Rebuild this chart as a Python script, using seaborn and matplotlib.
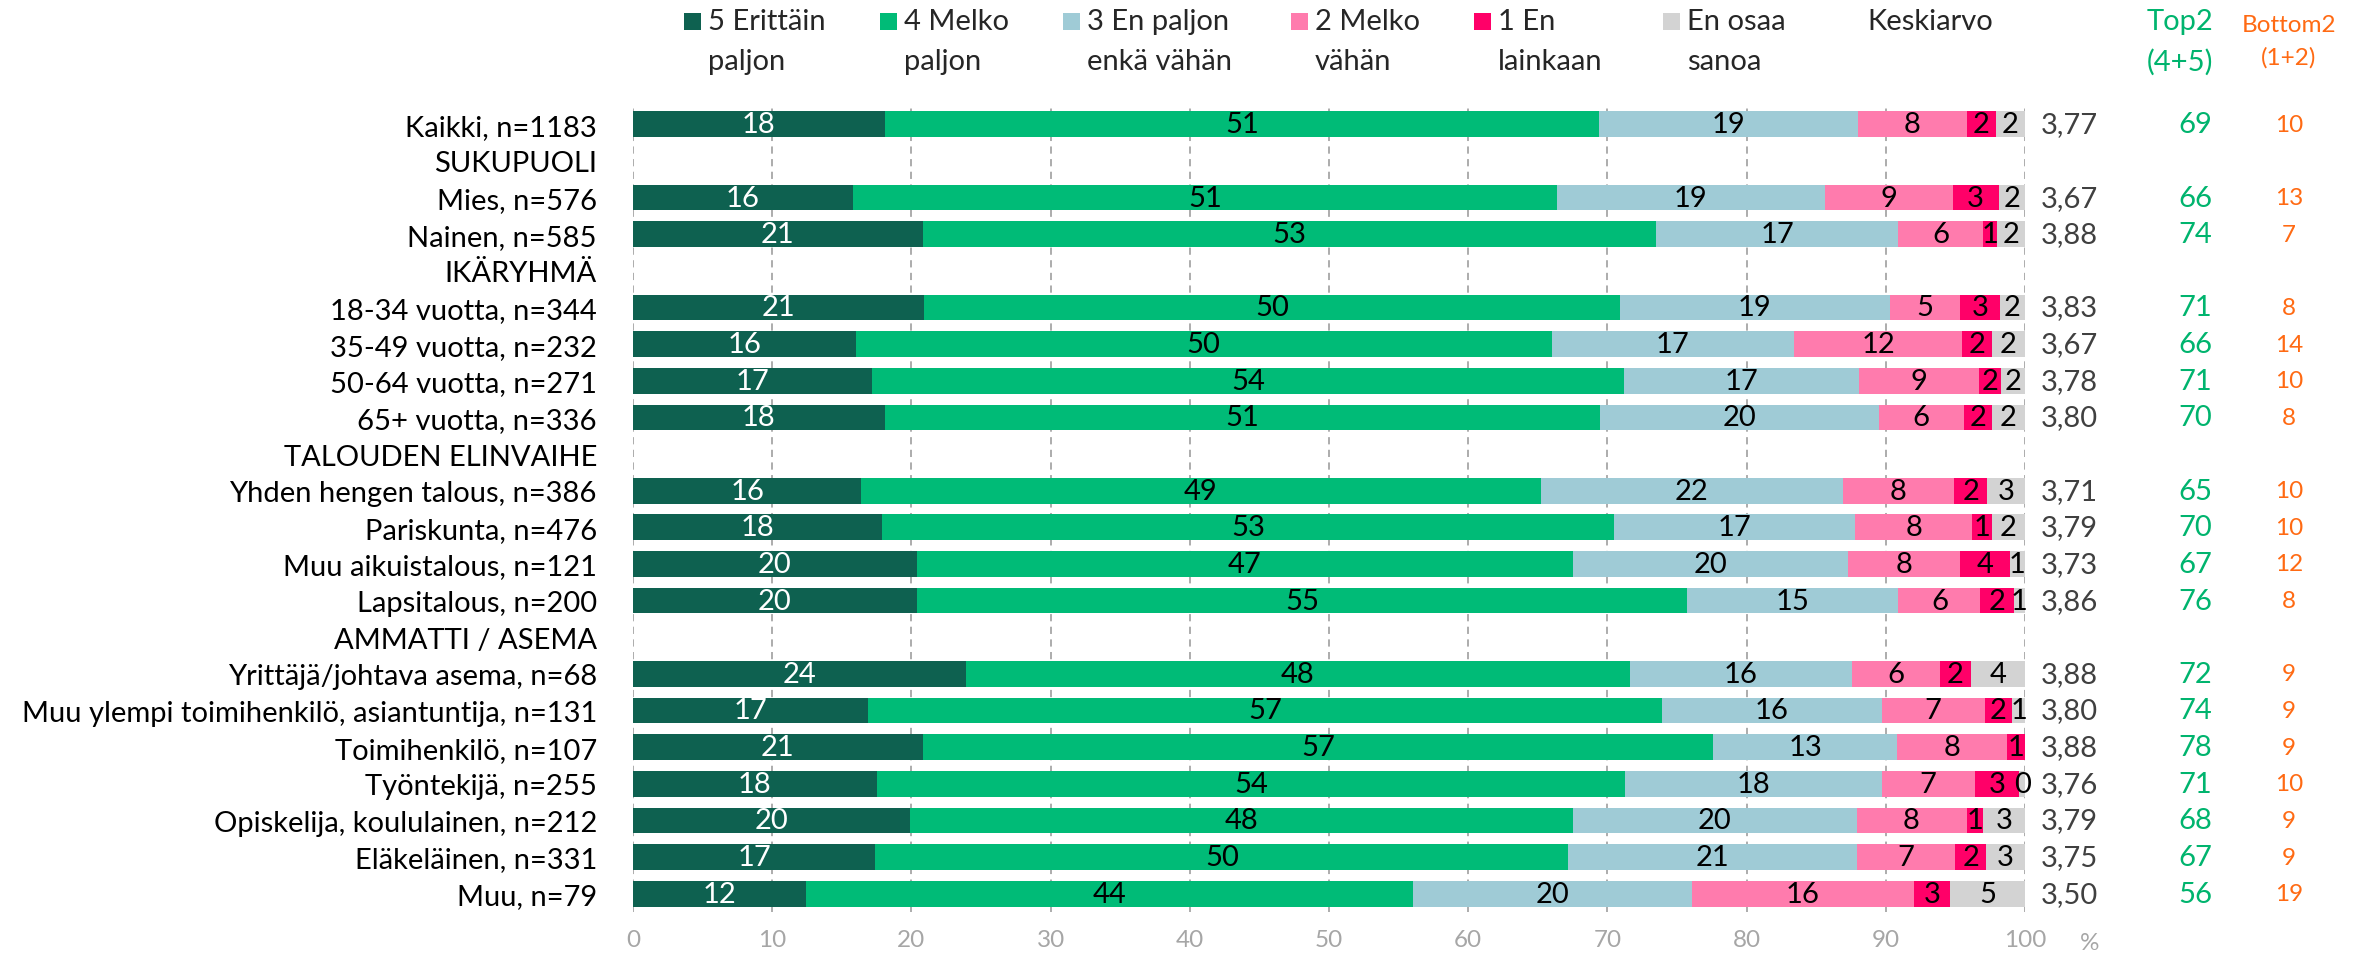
import numpy as np
import pandas as pd
import matplotlib
matplotlib.use("Agg")
import matplotlib.pyplot as plt
import matplotlib.transforms as mtrans
from matplotlib.patches import Rectangle
import seaborn as sns

nan = np.nan

rows = ["Kaikki, n=1183", "SUKUPUOLI", "Mies, n=576", "Nainen, n=585", "IKÄRYHMÄ",
        "18-34 vuotta, n=344", "35-49 vuotta, n=232", "50-64 vuotta, n=271", "65+ vuotta, n=336",
        "TALOUDEN ELINVAIHE", "Yhden hengen talous, n=386", "Pariskunta, n=476",
        "Muu aikuistalous, n=121", "Lapsitalous, n=200", "AMMATTI / ASEMA",
        "Yrittäjä/johtava asema, n=68", "Muu ylempi toimihenkilö, asiantuntija, n=131",
        "Toimihenkilö, n=107", "Työntekijä, n=255", "Opiskelija, koululainen, n=212",
        "Eläkeläinen, n=331", "Muu, n=79"]

series_names = ["5 Erittäin\npaljon", "4 Melko\npaljon", "3 En paljon\nenkä vähän",
                "2 Melko\nvähän", "1 En\nlainkaan", "En osaa\nsanoa"]

s5 = [18.1, nan, 15.8, 20.8, nan, 20.9, 16.0, 17.2, 18.1, nan, 16.4, 17.9, 20.4, 20.4, nan,
      23.9, 16.9, 20.8, 17.5, 19.9, 17.4, 12.4]
s4 = [51.3, nan, 50.6, 52.7, nan, 50.0, 50.0, 54.0, 51.4, nan, 48.8, 52.6, 47.1, 55.3, nan,
      47.7, 57.0, 56.8, 53.8, 47.6, 49.8, 43.6]
s3 = [18.6, nan, 19.2, 17.4, nan, 19.4, 17.4, 16.9, 20.0, nan, 21.7, 17.3, 19.8, 15.2, nan,
      16.0, 15.8, 13.2, 18.4, 20.4, 20.7, 20.1]
s2 = [7.8, nan, 9.2, 6.1, nan, 5.0, 12.1, 8.6, 6.1, nan, 8.0, 8.4, 8.0, 5.9, nan,
      6.3, 7.4, 7.9, 6.7, 7.9, 7.1, 15.9]
s1 = [2.1, nan, 3.3, 1.0, nan, 2.9, 2.1, 1.6, 2.0, nan, 2.4, 1.4, 3.6, 2.4, nan,
      2.2, 2.0, 1.3, 3.2, 1.2, 2.2, 2.6]
s0 = [2.1, nan, 1.9, 2.0, nan, 1.8, 2.4, 1.7, 2.4, nan, 2.7, 2.4, 1.1, 0.8, nan,
      3.9, 0.9, 0.0, 0.4, 3.0, 2.8, 5.4]

keskiarvo = [3.77, nan, 3.67, 3.88, nan, 3.83, 3.67, 3.78, 3.80, nan, 3.71, 3.79, 3.73, 3.86, nan,
             3.88, 3.80, 3.88, 3.76, 3.79, 3.75, 3.50]
top2 = [69, nan, 66, 74, nan, 71, 66, 71, 70, nan, 65, 70, 67, 76, nan,
        72, 74, 78, 71, 68, 67, 56]
bottom2 = [10, nan, 13, 7, nan, 8, 14, 10, 8, nan, 10, 10, 12, 8, nan,
           9, 9, 9, 10, 9, 9, 19]

xticks = list(range(0, 101, 10))

colors = ["#0E6150", "#00BB77", "#9FCBD6", "#FF7BAD", "#FF0068", "#D3D3D3"]
text_colors = ["white", "black", "black", "black", "black", "black"]
green_txt = "#00B46E"
orange_txt = "#FF6A13"

sns.set_theme(style="white")
plt.rcParams['font.family'] = ['Lato', 'DejaVu Sans']

W, H = 2362, 962
fig = plt.figure(figsize=(W / 100, H / 100), dpi=100)
ax_left, ax_right, ax_top, ax_bot = 633, 2025, 107, 913
ax = fig.add_axes([ax_left / W, 1 - ax_bot / H, (ax_right - ax_left) / W, (ax_bot - ax_top) / H])

vals = np.array([s5, s4, s3, s2, s1, s0], dtype=float)
cum = np.cumsum(vals, axis=0)

# stacked bars: draw cumulative totals from the right-most segment down
for k in range(5, -1, -1):
    df = pd.DataFrame({"row": rows, "val": cum[k]})
    sns.barplot(data=df, x="val", y="row", order=rows, orient="h", color=colors[k],
                saturation=1, width=0.7, errorbar=None, linewidth=0, ax=ax)

FS = 21
FS_SMALL = 17.5
FS_TICK = 17.5
for k in range(6):
    for i in range(len(rows)):
        v = vals[k, i]
        if np.isnan(v) or v <= 0:
            continue
        center = cum[k, i] - v / 2
        ax.text(center, i, f"{v:.0f}", ha="center", va="center", fontsize=FS,
                color=text_colors[k])

ax.set_xlim(0, 100)
ax.set_ylim(len(rows) - 0.5, -0.5)
ax.set_xticks(xticks)
ax.set_xticklabels([str(t) for t in xticks])
ax.set_xlabel("")
ax.set_ylabel("")
for sp in ax.spines.values():
    sp.set_visible(False)
ax.set_axisbelow(True)
ax.xaxis.grid(True, linestyle=(0, (4, 3)), color="#A6A6A6", linewidth=1.3)
ax.yaxis.grid(False)
ax.tick_params(axis="x", length=0, pad=12, labelsize=FS_TICK, labelcolor="#A6A6A6")
ax.tick_params(axis="y", length=0, pad=26, labelsize=FS, labelcolor="black")

fig.text(2090 / W, 1 - 944 / H, "%", ha="center", va="center", fontsize=FS_TICK, color="#A6A6A6")

# right-hand columns
tr = mtrans.blended_transform_factory(fig.transFigure, ax.transData)
for i in range(len(rows)):
    if not np.isnan(keskiarvo[i]):
        ax.text(2041 / W, i, f"{keskiarvo[i]:.2f}".replace(".", ","), transform=tr,
                ha="left", va="center", fontsize=FS, color="#404040")
    if not np.isnan(top2[i]):
        ax.text(2195 / W, i, f"{top2[i]:.0f}", transform=tr, ha="center", va="center",
                fontsize=FS, color=green_txt)
    if not np.isnan(bottom2[i]):
        ax.text(2289 / W, i, f"{bottom2[i]:.0f}", transform=tr, ha="center", va="center",
                fontsize=FS_SMALL, color=orange_txt)

# legend
leg_x = [684, 880, 1063, 1291, 1474, 1663]
for k, name in enumerate(series_names):
    fig.patches.append(Rectangle((leg_x[k] / W, 1 - 31 / H), 17 / W, 17 / H,
                                 transform=fig.transFigure, color=colors[k], lw=0))
    l1, l2 = name.split("\n")
    fig.text((leg_x[k] + 24) / W, 1 - 22 / H, l1, ha="left", va="center", fontsize=FS)
    fig.text((leg_x[k] + 24) / W, 1 - 62 / H, l2, ha="left", va="center", fontsize=FS)

fig.text(1867 / W, 1 - 22 / H, "Keskiarvo", ha="left", va="center", fontsize=FS)
fig.text(2180 / W, 1 - 22 / H, "Top2", ha="center", va="center", fontsize=FS, color=green_txt)
fig.text(2180 / W, 1 - 62 / H, "(4+5)", ha="center", va="center", fontsize=FS, color=green_txt)
fig.text(2289 / W, 1 - 25 / H, "Bottom2", ha="center", va="center", fontsize=FS_SMALL, color=orange_txt)
fig.text(2289 / W, 1 - 58 / H, "(1+2)", ha="center", va="center", fontsize=FS_SMALL, color=orange_txt)

fig.savefig("out.png", dpi=100)
